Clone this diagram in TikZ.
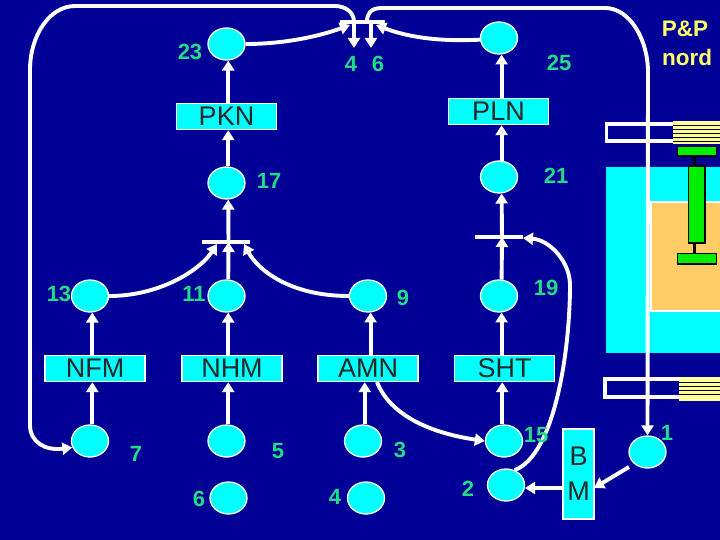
\documentclass[tikz,border=0pt]{standalone}
\usepackage{fontspec}
\setmainfont{Liberation Sans}
\usetikzlibrary{shapes.geometric,arrows.meta,calc}
\definecolor{navy}{HTML}{000096}
\definecolor{cy}{HTML}{00FFFF}
\definecolor{grn}{HTML}{22DD88}
\definecolor{yel}{HTML}{FFFF66}
\definecolor{lyel}{HTML}{FFFF99}
\definecolor{org}{HTML}{FFCC66}
\definecolor{lim}{HTML}{00EE00}
\tikzset{
 x=1pt,y=-1pt,
 el/.style={ellipse,draw=white,line width=1.3pt,fill=cy,minimum width=37pt,minimum height=32pt,inner sep=0pt},
 bx/.style={rectangle,draw=white,line width=1.3pt,fill=cy,minimum height=26pt,minimum width=100pt,inner sep=0pt,font=\fontsize{27}{27}\selectfont,text=black!85},
 num/.style={text=grn,font=\bfseries\fontsize{22}{22}\selectfont,inner sep=0pt},
 yl/.style={text=yel,font=\bfseries\fontsize{22.5}{22.5}\selectfont,inner sep=0pt,anchor=base},
 wire/.style={draw=white,line width=3.9pt},
 arr/.style={wire,-{Triangle[length=10pt,width=12pt]}},
 barline/.style={draw=white,line width=3.4pt},
 pistonpart/.style={draw=black,line width=1.6pt,fill=lim},
}
\begin{document}
\begin{tikzpicture}
\useasboundingbox (0,0) rectangle (720,540);
\fill[navy] (0,0) rectangle (720,540);
% right panel
\fill[cy] (606,167) rectangle (720,353);
\filldraw[fill=org,draw=white,line width=2pt] (651,202.5) rectangle (722,311);
% top clamp
\draw[white,line width=3.6pt] (606.5,124) rectangle (680,141);
\fill[lyel] (673,121) rectangle (720,144);
\foreach \y in {125.5,129.5,133.5,137.5,141}{\draw[black,line width=.8pt] (673,\y)--(720,\y);}
% bottom clamp
\draw[white,line width=3.6pt] (605,379) rectangle (685,397);
\fill[lyel] (679,377) rectangle (720,401);
\foreach \y in {382.5,386.5,390.5,394.5}{\draw[black,line width=.8pt] (679,\y)--(720,\y);}
% piston
\draw[black,line width=3pt] (694.5,156)--(694.5,253);
\draw[pistonpart] (677.5,146.5) rectangle (716.5,156);
\draw[pistonpart] (688.5,166) rectangle (705,243);
\draw[pistonpart] (677.5,253.5) rectangle (716.5,264);
% nodes
\node[el] (n23) at (226.5,44) {};
\node[el] (n17) at (226.5,183) {};
\node[el] (n13) at (90,296) {};
\node[el] (n11) at (226.5,296) {};
\node[el] (n9) at (368,296) {};
\node[el] (n19) at (499,296) {};
\node[el] (n21) at (499,177) {};
\node[el] (n25) at (499,38) {};
\node[el] (n7) at (90,441) {};
\node[el] (n5) at (226.5,441) {};
\node[el] (n6) at (228.5,498) {};
\node[el] (n3) at (363,441) {};
\node[el] (n4) at (366,498) {};
\node[el] (n15) at (504,441) {};
\node[el] (n2) at (506,485) {};
\node[el] (n1) at (647.5,452) {};
\node[bx] (pkn) at (226.5,116.5) {PKN};
\node[bx] (pln) at (498.5,111.5) {PLN};
\node[bx] (nfm) at (95,368.5) {NFM};
\node[bx] (nhm) at (232,368.5) {NHM};
\node[bx] (amn) at (368,368.5) {AMN};
\node[bx] (sht) at (504.5,368.5) {SHT};
\node[bx,minimum width=31pt,minimum height=90pt,align=center,font=\fontsize{27}{35}\selectfont] (bm) at (578.5,474) {B\\M};
% bars
\coordinate (bA1) at (340,22); \coordinate (bA2) at (385,22);
\coordinate (bB1) at (202,242); \coordinate (bB2) at (250,242);
\coordinate (bC1) at (475,237); \coordinate (bC2) at (523,237);
\draw[barline] (bA1)--(bA2);
\draw[barline] (bB1)--(bB2);
\draw[barline] (bC1)--(bC2);
% straight arrows
\coordinate (bBm) at (228.5,242);
\coordinate (bCm) at (502,237);
\draw[arr] (n17.84) -- (n17.84 |- pkn.south);
\draw[arr] (pkn.north -| n17.84) -- (n23.-84);
\draw[arr] (bBm) -- (n17.-84);
\draw[arr] (n11.84) -- (bBm);
\draw[arr] (nhm.north -| n11.84) -- (n11.-84);
\draw[arr] (n5.84) -- (n5.84 |- nhm.south);
\draw[arr] (nfm.north -| n13.-82) -- (n13.-82);
\draw[arr] (n7.82) -- (n7.82 |- nfm.south);
\draw[arr] (amn.north -| n9.-81) -- (n9.-81);
\draw[arr] (n3.84) -- (n3.84 |- amn.south);
\draw[arr] (sht.north -| n19.-81) -- (n19.-81);
\draw[arr] (n15.96) -- (n15.96 |- sht.south);
\draw[arr] (n19.81) -- (bCm);
\draw[arr] (bCm) -- (n21.-81);
\draw[arr] (n21.81) -- (n21.81 |- pln.south);
\draw[arr] (pln.north -| n21.81) -- (n25.-81);
% curved
\draw[arr] (n13.0) .. controls (160,296) and (200,270) .. (217,244);
\draw[arr] (n9.180) .. controls (290,296) and (258,270) .. (244,244);
\draw[arr] (n23.0) .. controls (285,44) and (320,36) .. (350,25);
\draw[arr] (n25.185) .. controls (435,42) and (405,36) .. (376,25);
\coordinate (amnout) at (377,382);
\draw[arr] (amnout) .. controls (390,415) and (430,433) .. (n15.west);
\draw[arr] (n2.60) .. controls (555,455) and (570,350) .. (570,285) .. controls (570,262) and (550,240) .. (523,238);
\coordinate (aL) at (354,22); \coordinate (aR) at (371,22);
\coordinate (t46a) at (354,48); \coordinate (t46b) at (371,48);
\draw[arr] (aL)--(t46a);
\draw[arr] (aR)--(t46b);
% loops
\draw[arr] (aL) .. controls (354,12) and (345,6) .. (335,6) -- (75,6) .. controls (50,6) and (30,35) .. (30,70) -- (30,425) .. controls (30,442) and (45,451) .. (n7.200);
\coordinate (aR2) at (367,22);
\draw[arr] (aR2) .. controls (367,14) and (370,8) .. (382,8) -- (605,8) .. controls (630,8) and (648,40) .. (648,72) -- (n1.north);
\coordinate (bmin) at (594,488);
\coordinate (bmout) at (563,488);
\coordinate (n1out) at (629,467);
\coordinate (n2in) at (525,488);
\draw[arr] (n1out) -- (bmin);
\draw[arr] (bmout) -- (n2in);
% labels
\node[num] (l23) at (190,52) {23};
\node[num] (l17) at (269,181) {17};
\node[num] (l13) at (59,294) {13};
\node[num] (l11) at (194,294) {11};
\node[num] (l9) at (403,298) {9};
\node[num] (l19) at (546,288) {19};
\node[num] (l21) at (556,176) {21};
\node[num] (l25) at (559,63) {25};
\node[num] (l4a) at (351,64) {4};
\node[num] (l6a) at (378,64) {6};
\node[num] (l7) at (136,454) {7};
\node[num] (l5) at (278,451) {5};
\node[num] (l6) at (199,499) {6};
\node[num] (l4) at (335,497) {4};
\node[num] (l3) at (400,450) {3};
\node[num] (l2) at (468,489) {2};
\node[num] (l15) at (536,435) {15};
\node[num] (l1) at (667,433) {1};
\node[yl] (pp) at (685,37) {P\&P};
\node[yl] (nord) at (687,65.5) {nord};
\end{tikzpicture}
\end{document}
